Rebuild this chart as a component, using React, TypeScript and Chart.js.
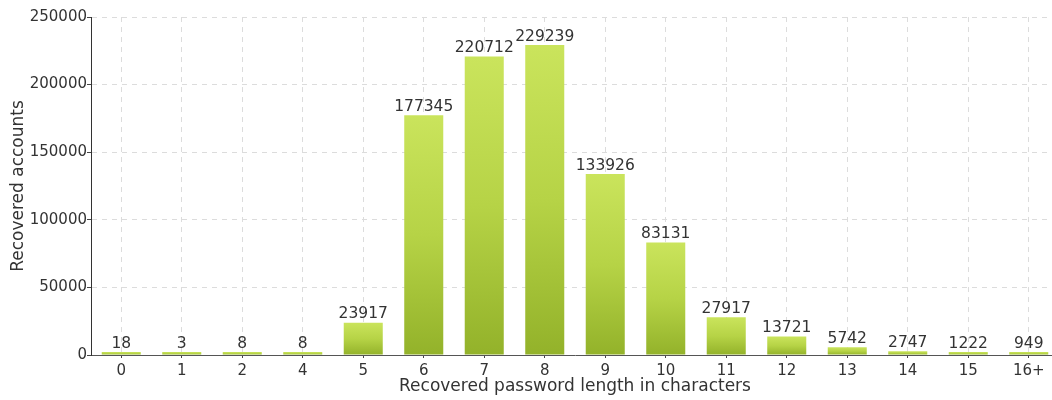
import React, { useEffect, useRef } from "react";
import { Chart, registerables } from "chart.js";

Chart.register(...registerables);

const categories = ["0", "1", "2", "4", "5", "6", "7", "8", "9", "10", "11", "12", "13", "14", "15", "16+"];
const recovered = [18, 3, 8, 8, 23917, 177345, 220712, 229239, 133926, 83131, 27917, 13721, 5742, 2747, 1222, 949];
const yTicks = [0, 50000, 100000, 150000, 200000, 250000];
const xTitle = "Recovered password length in characters";
const yTitle = "Recovered accounts";

const FONT = "'DejaVu Sans', sans-serif";
const TEXT = "#333333";

const valueLabels = {
  id: "valueLabels",
  afterDatasetsDraw(chart: any) {
    const ctx = chart.ctx;
    const meta = chart.getDatasetMeta(0);
    ctx.save();
    ctx.font = "15.5px " + FONT;
    ctx.fillStyle = TEXT;
    ctx.textAlign = "center";
    ctx.textBaseline = "bottom";
    meta.data.forEach((el: any, i: number) => {
      ctx.fillText(String(recovered[i]), el.x, el.y - 0.5);
    });
    ctx.restore();
  },
};

export default function App() {
  const ref = useRef<HTMLCanvasElement>(null);
  useEffect(() => {
    if (!ref.current) return;
    const chart = new Chart(ref.current, {
      type: "bar",
      data: {
        labels: categories,
        datasets: [
          {
            data: recovered,
            minBarLength: 3,
            barPercentage: 0.645,
            categoryPercentage: 1,
            borderWidth: 0,
            backgroundColor: (c: any) => {
              const chart = c.chart;
              const y = chart.scales && chart.scales.y;
              if (!y || typeof c.raw !== "number") return "#b0cf40";
              const base = y.getPixelForValue(0);
              let top = y.getPixelForValue(c.raw);
              if (!isFinite(base) || !isFinite(top)) return "#b0cf40";
              if (base - top < 3) top = base - 3;
              const g = chart.ctx.createLinearGradient(0, top, 0, base);
              g.addColorStop(0, "#cae45c");
              g.addColorStop(0.5, "#b6d346");
              g.addColorStop(1, "#93b22a");
              return g;
            },
          },
        ],
      },
      options: {
        responsive: false,
        animation: false,
        layout: { padding: { left: 0, right: 0, top: 17, bottom: 0 } },
        plugins: {
          legend: { display: false },
          tooltip: { enabled: false },
        },
        scales: {
          x: {
            offset: true,
            grid: {
              offset: false,
              color: "#dcdcdc",
              tickColor: "#444",
              tickLength: 3,
              drawTicks: true,
            },
            border: { display: true, color: "#555", width: 1, dash: [5, 5] },
            ticks: {
              color: TEXT,
              font: { family: FONT, size: 15 },
              padding: 4,
              maxRotation: 0,
              autoSkip: false,
            },
            title: {
              display: true,
              text: xTitle,
              color: TEXT,
              font: { family: FONT, size: 17 },
              padding: { top: 0, bottom: 3 },
            },
            afterFit: (s: any) => {
              s.height = 45;
            },
          },
          y: {
            min: 0,
            max: 250000,
            afterBuildTicks: (s: any) => {
              s.ticks = yTicks.map((v) => ({ value: v }));
            },
            grid: {
              color: (c: any) => (c.tick && c.tick.value === 0 ? "rgba(0,0,0,0)" : "#dcdcdc"),
              tickColor: "#444",
              tickLength: 4,
            },
            border: { display: true, color: "#333", width: 1, dash: [5, 5] },
            ticks: {
              color: TEXT,
              font: { family: FONT, size: 15 },
              padding: 0,
              callback: (v: any) => String(v),
            },
            title: {
              display: true,
              text: yTitle,
              color: TEXT,
              font: { family: FONT, size: 17 },
              padding: { top: 8, bottom: 0 },
            },
            afterFit: (s: any) => {
              s.width = 91;
            },
          },
        },
      },
      plugins: [valueLabels],
    });
    return () => chart.destroy();
  }, []);

  return (
    <div style={{ position: "absolute", left: 0, top: 0, width: 1052, height: 400, overflow: "hidden", background: "#fff" }}>
      <canvas ref={ref} width={1059} height={400} style={{ display: "block" }} />
    </div>
  );
}
